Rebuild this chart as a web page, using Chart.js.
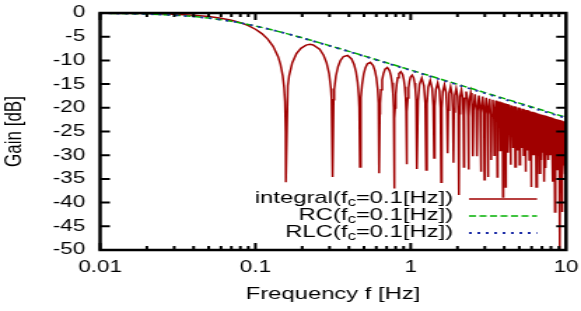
<!DOCTYPE html>
<html><head><meta charset="utf-8">
<script src="https://cdn.jsdelivr.net/npm/chart.js@4.4.1/dist/chart.umd.min.js"></script>
<style>
html,body{margin:0;padding:0;background:#fff;}
#wrap{width:581px;height:311px;overflow:hidden;position:relative;background:#fff;}
#c{position:absolute;left:0;top:0;transform:scaleX(1.4);transform-origin:0 0;}
</style></head><body>
<div id="wrap"><canvas id="c" width="415" height="311"></canvas></div>
<script>
// ---------------- data ----------------
const xTickValues = [0.01, 0.1, 1, 10];
const xTickLabels = ['0.01', '0.1', '1', '10'];
const yTickValues = [0, -5, -10, -15, -20, -25, -30, -35, -40, -45, -50];
const yTickLabels = ['0', '-5', '-10', '-15', '-20', '-25', '-30', '-35', '-40', '-45', '-50'];

const legendParts = [
  ['integral(f', 'c', '=0.1[Hz])'],
  ['RC(f', 'c', '=0.1[Hz])'],
  ['RLC(f', 'c', '=0.1[Hz])']
];

// integral filter: frequency [Hz] and gain [dB], read lobe by lobe
const integralFreq = [
  0.01,0.02,0.03,0.04,0.05,0.06,0.07,0.08,0.09,0.1,0.11,0.12,0.13,0.14,0.145,0.15,0.153,0.155,0.1565,0.157,
  0.1617,0.16485,0.1727,0.18369,0.19625,0.21195,0.22451,0.2355,0.25905,0.27475,0.28731,0.2983,0.30615,0.30929,0.314,
  0.31871,0.32185,0.3297,0.34069,0.35325,0.36895,0.3925,0.41605,0.43175,0.44431,0.4553,0.46315,0.46629,0.471,
  0.47571,0.47885,0.4867,0.49769,0.51025,0.52595,0.5495,0.57305,0.58875,0.60131,0.6123,0.62015,0.62329,0.628,
  0.63271,0.63585,0.6437,0.65469,0.66725,0.68295,0.7065,0.73005,0.74575,0.75831,0.7693,0.77715,0.78029,0.785,
  0.78971,0.79285,0.8007,0.81169,0.82425,0.83995,0.8635,0.88705,0.90275,0.91531,0.9263,0.93415,0.93729,0.942,
  0.94671,0.94985,0.9577,0.96869,0.98125,0.99695,1.0205,1.04405,1.05975,1.07231,1.0833,1.09115,1.09429,1.099,
  1.1147,1.13825,1.1775,1.21675,1.2403,1.256,
  1.2717,1.29525,1.3345,1.37375,1.3973,1.413,
  1.4287,1.45225,1.4915,1.53075,1.5543,1.57,
  1.5857,1.60925,1.6485,1.68775,1.7113,1.727,
  1.7427,1.76625,1.8055,1.84475,1.8683,1.884,
  1.8997,1.92325,1.9625,2.00175,2.0253,2.041,
  2.0567,2.08025,2.1195,2.15875,2.1823,2.198,
  2.2137,2.23725,2.2765,2.31575,2.3393,2.355,
  2.3707,2.39425,2.4335,2.47275,2.4963,2.512,
  2.53555,2.5905,2.64545,2.669,
  2.69255,2.7475,2.80245,2.826,
  2.84955,2.9045,2.95945,2.983,
  3.00655,3.0615,3.11645,3.14,
  3.16355,3.2185,3.27345,3.297,
  3.32055,3.3755,3.43045,3.454,
  3.47755,3.5325,3.58745,3.611,
  3.63455,3.6895,3.74445,3.768,
  3.79155,3.8465,3.90145,3.925,
  3.94855,4.0035,4.05845,4.082,
  4.10555,4.1605,4.21545,4.239,
  4.26255,4.3175,4.37245,4.396,
  4.41955,4.4745,4.52945,4.553,
  4.57655,4.6315,4.68645,4.71,
  4.73355,4.7885,4.84345,4.867,
  4.89055,4.9455,5.00045,5.024,
  5.04755,5.1025,5.15745,5.181,
  5.20455,5.2595,5.31445,5.338,
  5.36155,5.4165,5.47145,5.495,
  5.51855,5.5735,5.62845,5.652,
  5.67555,5.7305,5.78545,5.809,
  5.83255,5.8875,5.94245,5.966,
  5.98955,6.0445,6.09945,6.123,
  6.14655,6.2015,6.25645,6.28,
  6.30355,6.3585,6.41345,6.437,
  6.5155,6.594, 6.6725,6.751, 6.8295,6.908, 6.9865,7.065, 7.1435,7.222,
  7.3005,7.379, 7.4575,7.536, 7.6145,7.693, 7.7715,7.85, 7.9285,8.007,
  8.0855,8.164, 8.2425,8.321, 8.3995,8.478, 8.5565,8.635, 8.7135,8.792,
  8.8705,8.949, 9.0275,9.106, 9.1845,9.263, 9.3415,9.42, 9.4985,9.577,
  9.6555,9.734, 9.8125,9.891, 9.9695,10
];
const integralGain = [
  -0.03,-0.12,-0.26,-0.47,-0.75,-1.10,-1.52,-2.04,-2.67,-3.42,-4.35,-5.51,-7.03,-9.22,-10.84,-13.28,-15.74,-18.7,-25.0,-35.7,
  -15.36,-13.24,-10.49,-8.58,-7.45,-6.77,-6.62,-6.73,-7.65,-8.91,-10.53,-12.86,-15.93,-18.18,-34.6,
  -18.31,-16.15,-13.29,-11.27,-10.0,-9.18,-8.95,-9.70,-10.87,-12.42,-14.70,-17.73,-19.96,-32.5,
  -20.05,-17.87,-14.99,-12.91,-11.60,-10.72,-10.41,-11.09,-12.22,-13.73,-15.98,-19.0,-21.22,-33.8,
  -21.28,-19.11,-16.20,-14.10,-12.77,-11.86,-11.50,-12.15,-13.25,-14.74,-16.97,-19.98,-22.19,-37.0,
  -22.25,-20.06,-17.15,-15.04,-13.68,-12.76,-12.37,-12.99,-14.08,-15.56,-17.78,-20.78,-22.99,-31.9,
  -23.03,-20.85,-17.92,-15.80,-14.44,-13.50,-13.10,-13.70,-14.77,-16.25,-18.46,-21.45,-23.66,-32.9,
  -18.59,-15.08,-13.72,-15.37,-19.05,-33.1,
  -19.17,-15.65,-14.27,-15.90,-19.57,-30.6,
  -19.67,-16.14,-14.75,-16.37,-20.03,-35.7,
  -20.11,-16.58,-15.18,-16.79,-20.45,-29.6,
  -20.53,-16.99,-15.58,-17.18,-20.83,-31.6,
  -20.90,-17.36,-15.94,-17.53,-21.18,-38.4,
  -21.24,-17.70,-16.27,-17.86,-21.50,-32.5,
  -21.56,-18.01,-16.58,-18.16,-21.80,-33.0,
  -21.85,-18.31,-16.87,-18.45,-22.08,-30.2,
  -20.58,-17.15,-20.58,-30.2,
  -20.83,-17.40,-20.83,-33.5,
  -21.07,-17.64,-21.07,-35.2,
  -21.30,-17.87,-21.30,-34.6,
  -21.52,-18.09,-21.52,-31.0,
  -21.73,-18.30,-21.73,-30.0,
  -21.92,-18.49,-21.92,-34.6,
  -22.11,-18.68,-22.11,-29.0,
  -22.29,-18.86,-22.29,-38.8,
  -22.47,-19.04,-22.47,-36.7,
  -22.63,-19.20,-22.63,-29.5,
  -22.79,-19.36,-22.79,-32.0,
  -22.95,-19.52,-22.95,-28.5,
  -23.10,-19.67,-23.10,-32.5,
  -23.24,-19.81,-23.24,-29.0,
  -23.38,-19.95,-23.38,-32.0,
  -23.52,-20.09,-23.52,-28.5,
  -23.65,-20.22,-23.65,-30.0,
  -23.78,-20.35,-23.78,-33.5,
  -23.90,-20.47,-23.90,-29.0,
  -24.02,-20.59,-24.02,-31.0,
  -24.14,-20.71,-24.14,-36.7,
  -24.26,-20.83,-24.26,-30.0,
  -24.37,-20.94,-24.37,-30.0,
  -24.48,-21.05,-24.48,-36.7,
  -21.15,-30.0, -21.26,-33.8, -21.36,-31.0, -21.45,-29.5, -21.55,-35.6,
  -21.65,-32.7, -21.74,-30.0, -21.83,-31.0, -21.92,-30.0, -22.01,-30.0,
  -22.09,-35.6, -22.17,-31.0, -22.26,-42.0, -22.34,-30.0, -22.41,-33.0,
  -22.49,-32.0, -22.57,-50.0, -22.64,-31.0, -22.72,-42.0, -22.79,-32.0,
  -22.86,-30.0, -22.93,-34.0, -23.0,-23.2
];

const rcFreq = [0.01,0.02,0.03,0.04,0.05,0.06,0.07,0.08,0.1,0.12,0.15,0.2,0.3,0.4,0.5,0.7,1,2,3,5,7,10];
const rcGain = [-0.05,-0.21,-0.45,-0.74,-1.07,-1.41,-1.75,-2.09,-2.74,-3.34,-4.13,-5.23,-6.88,-8.09,-9.04,-10.49,-12.03,-15.03,-16.79,-19.01,-20.47,-22.02];
const rlcGain = [-0.05,-0.21,-0.45,-0.74,-1.07,-1.41,-1.75,-2.09,-2.74,-3.34,-4.13,-5.25,-6.92,-8.14,-9.10,-10.57,-12.12,-15.15,-16.93,-19.16,-20.63,-22.18];

// ---------------- chart ----------------
const FONT = '"Liberation Sans", Arial, Helvetica, sans-serif';
const pts = (xs, ys) => xs.map((v, i) => ({x: v, y: ys[i]}));
const noPad = s => { s.paddingLeft = 0; s.paddingRight = 0; s.paddingTop = 0; s.paddingBottom = 0; };

const framePlugin = {
  id: 'frameAndLegend',
  afterDatasetsDraw(chart) {
    const {ctx, chartArea: a, scales: {x, y}} = chart;
    ctx.save();
    ctx.strokeStyle = '#000';
    ctx.lineWidth = 2;
    ctx.beginPath();
    yTickValues.forEach(v => {
      const p = y.getPixelForValue(v);
      ctx.moveTo(a.left, p); ctx.lineTo(a.left + 7, p);
      ctx.moveTo(a.right, p); ctx.lineTo(a.right - 7, p);
    });
    for (let k = -2; k <= 0; k++) {
      for (let m = 1; m <= 9; m++) {
        const p = x.getPixelForValue(m * Math.pow(10, k));
        const L = m === 1 ? 7 : 4;
        ctx.moveTo(p, a.bottom); ctx.lineTo(p, a.bottom - L);
        ctx.moveTo(p, a.top); ctx.lineTo(p, a.top + L);
      }
    }
    ctx.stroke();
    ctx.lineWidth = 2.5;
    ctx.strokeRect(a.left, a.top, a.right - a.left, a.bottom - a.top);

    // legend
    const rows = [198, 215, 232];
    const textRight = 323.6, sx0 = 335, sx1 = 383.6;
    const mainFont = '17px ' + FONT, subFont = '12px ' + FONT;
    ctx.textBaseline = 'middle';
    ctx.textAlign = 'left';
    ctx.fillStyle = '#000';
    legendParts.forEach((parts, i) => {
      const yy = rows[i];
      ctx.font = mainFont;
      const w0 = ctx.measureText(parts[0]).width;
      const w2 = ctx.measureText(parts[2]).width;
      ctx.font = subFont;
      const w1 = ctx.measureText(parts[1]).width;
      let xx = textRight - (w0 + w1 + w2);
      ctx.font = mainFont; ctx.fillText(parts[0], xx, yy); xx += w0;
      ctx.font = subFont; ctx.fillText(parts[1], xx, yy + 5); xx += w1;
      ctx.font = mainFont; ctx.fillText(parts[2], xx, yy);
      const ds = chart.data.datasets[i];
      ctx.strokeStyle = ds.borderColor;
      ctx.lineWidth = ds.borderWidth;
      ctx.setLineDash(ds.borderDash || []);
      ctx.beginPath(); ctx.moveTo(sx0, yy + 1); ctx.lineTo(sx1, yy + 1); ctx.stroke();
      ctx.setLineDash([]);
    });
    ctx.restore();
  }
};

new Chart(document.getElementById('c'), {
  type: 'line',
  data: {
    datasets: [
      {label: 'integral', data: pts(integralFreq, integralGain), borderColor: '#a00000', borderWidth: 1.5, pointRadius: 0, tension: 0, order: 3, fill: false},
      {label: 'RC', data: pts(rcFreq, rcGain), borderColor: '#00b000', borderWidth: 1.5, borderDash: [5, 2.5], pointRadius: 0, tension: 0, order: 2, fill: false},
      {label: 'RLC', data: pts(rcFreq, rlcGain), borderColor: '#1f2fa8', borderWidth: 1.8, borderDash: [2, 4], pointRadius: 0, tension: 0, order: 1, fill: false}
    ]
  },
  options: {
    responsive: false,
    animation: false,
    devicePixelRatio: 1,
    parsing: false,
    layout: {padding: {left: 0, right: 10.7, top: 13, bottom: 0}},
    plugins: {legend: {display: false}, tooltip: {enabled: false}},
    scales: {
      x: {
        type: 'logarithmic', min: 0.01, max: 10,
        grid: {display: false, drawTicks: false},
        border: {display: false},
        afterBuildTicks: s => { s.ticks = xTickValues.map(v => ({value: v})); },
        afterFit: s => { s.height = 61; noPad(s); },
        ticks: {
          autoSkip: false, maxRotation: 0, padding: 8.4, color: '#000',
          font: {family: FONT, size: 16},
          callback: v => { const i = xTickValues.indexOf(v); return i >= 0 ? xTickLabels[i] : ''; }
        },
        title: {display: true, text: 'Frequency f [Hz]', color: '#000', font: {family: FONT, size: 17}, padding: {top: 0, bottom: 6.8}}
      },
      y: {
        type: 'linear', min: -50, max: 0,
        grid: {display: false, drawTicks: false},
        border: {display: false},
        afterBuildTicks: s => { s.ticks = yTickValues.map(v => ({value: v})); },
        afterFit: s => { s.width = 71.5; noPad(s); },
        ticks: {
          autoSkip: false, padding: 10.7, color: '#000',
          font: {family: FONT, size: 16},
          callback: v => { const i = yTickValues.indexOf(v); return i >= 0 ? yTickLabels[i] : ''; }
        },
        title: {display: true, text: 'Gain [dB]', color: '#000', font: {family: FONT, size: 17}, padding: {top: 0.5, bottom: 0}}
      }
    }
  },
  plugins: [framePlugin]
});
</script>
</body></html>
